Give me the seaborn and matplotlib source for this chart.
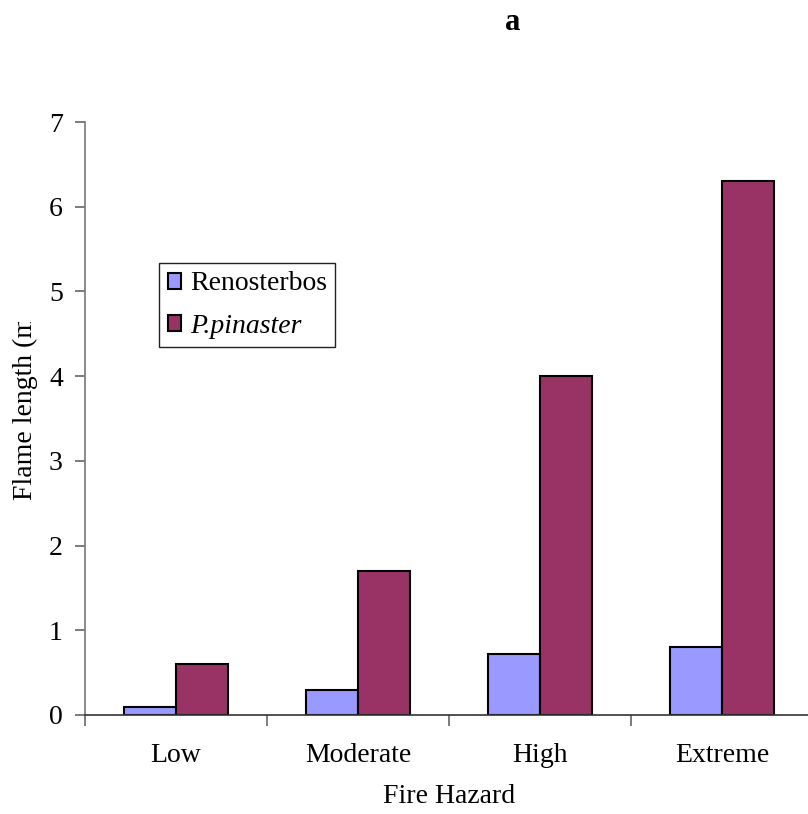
import pandas as pd
import matplotlib
matplotlib.use("Agg")
import matplotlib.pyplot as plt
import seaborn as sns
from matplotlib.transforms import Bbox

# Données
hazard = ["Low", "Moderate", "High", "Extreme"]
renosterbos = [0.1, 0.3, 0.72, 0.8]
pinaster = [0.6, 1.7, 4.0, 6.3]
species = ["Renosterbos", "P.pinaster"]
colors = ["#9999FF", "#993366"]

df = pd.DataFrame({
    "Fire Hazard": hazard * 2,
    "Flame": renosterbos + pinaster,
    "Species": [species[0]] * 4 + [species[1]] * 4,
})

sns.set_style("white")
plt.rcParams["font.family"] = ["Liberation Serif", "DejaVu Serif"]
plt.rcParams["font.size"] = 20
plt.rcParams["text.color"] = "black"
plt.rcParams["axes.labelcolor"] = "black"
plt.rcParams["xtick.color"] = "black"
plt.rcParams["ytick.color"] = "black"

fig = plt.figure(figsize=(8.08, 8.14), dpi=100)
ax = fig.add_axes([85 / 808, 99 / 814, 728 / 808, 593 / 814])

sns.barplot(data=df, x="Fire Hazard", y="Flame", hue="Species", order=hazard,
            hue_order=species, palette=colors, width=0.57, gap=0,
            edgecolor="black", linewidth=1.5, saturation=1, ax=ax)

ax.set_xlim(-0.5, 3.5)
ax.set_ylim(0, 7)
ax.set_yticks(range(8))
ax.set_xticks([-0.5, 0.5, 1.5, 2.5, 3.5], minor=True)
ax.tick_params(axis="x", which="major", length=0, pad=20, labelsize=20)
ax.tick_params(axis="x", which="minor", length=8, width=1.2, color="#666666", direction="out", bottom=True)
ax.tick_params(axis="y", length=7, width=1.2, color="#666666", direction="out", left=True, labelsize=20, pad=9)
for s in ["top", "right"]:
    ax.spines[s].set_visible(False)
ax.spines["left"].set_color("#777777")
ax.spines["bottom"].set_color("#333333")
ax.spines["left"].set_linewidth(1.2)
ax.spines["bottom"].set_linewidth(1.2)

ax.set_xlabel("Fire Hazard", fontsize=20, labelpad=12)
ax.set_ylabel("")

# Légende
handles, labels = ax.get_legend_handles_labels()
leg = ax.legend(handles, labels, loc="upper left", bbox_to_anchor=(0.102, 0.762),
                borderaxespad=0, fancybox=False, edgecolor="#222222", fontsize=20,
                handlelength=0.5, handleheight=0.5, handletextpad=0.3,
                labelspacing=0.62, borderpad=0.3, framealpha=1)
leg.get_frame().set_linewidth(1)
leg.get_texts()[1].set_fontstyle("italic")

# Étiquette de l'axe y (coupée comme dans l'original)
yl = fig.text(25 / 808, (814 - 500) / 814, "Flame length (m)", rotation=90,
              ha="center", va="bottom", fontsize=20)
yl.set_clip_box(Bbox([[0, 0], [80, 814 - 322]]))
yl.set_clip_on(True)

fig.text(513 / 808, 1 - 23 / 814, "a", ha="center", va="center",
         fontsize=22, fontweight="bold")

fig.savefig("out.png", dpi=100)
